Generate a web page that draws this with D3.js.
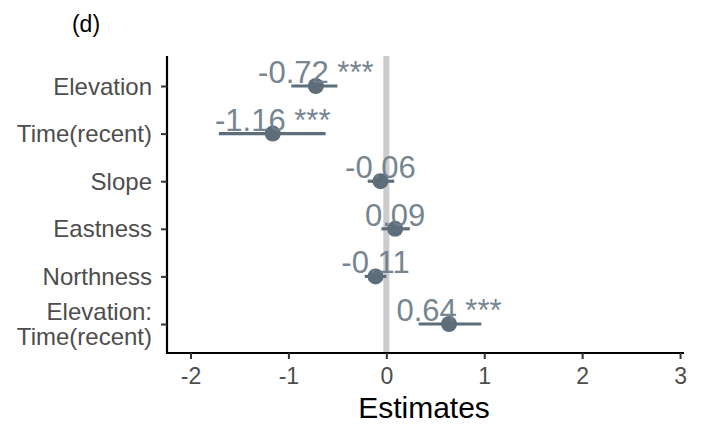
<!DOCTYPE html>
<html><head><meta charset="utf-8">
<script src="https://cdn.jsdelivr.net/npm/d3@7"></script>
<style>body{margin:0;background:#fff}svg{display:block}text{font-family:"Liberation Sans",Arial,sans-serif}</style>
</head><body><svg id="c" width="701" height="427"></svg>
<script>
const terms = ["Elevation","Time(recent)","Slope","Eastness","Northness","Elevation:\nTime(recent)"];
const estimates = [-0.72,-1.16,-0.06,0.09,-0.11,0.64];
const ciLow = [-0.97,-1.71,-0.19,-0.05,-0.22,0.33];
const ciHigh = [-0.50,-0.62,0.08,0.24,0.00,0.97];
const stars = ["***","***","","","","***"];
const xTicks = [-2,-1,0,1,2,3];

const svg = d3.select("#c");
const x = d3.scaleLinear().domain([-2.24,3.03]).range([167,683]);
const y = d3.scalePoint().domain(d3.range(terms.length)).range([86,324]);
const plotTop = 56, plotBottom = 353;

// zero line
svg.append("line").attr("x1",x(0)).attr("x2",x(0)).attr("y1",plotTop).attr("y2",plotBottom)
  .attr("stroke","#cccccc").attr("stroke-width",6);

// error bars
const g = svg.append("g");
terms.forEach((t,i)=>{
  g.append("line").attr("x1",x(ciLow[i])).attr("x2",x(ciHigh[i])).attr("y1",y(i)).attr("y2",y(i))
    .attr("stroke","#5d6d7a").attr("stroke-width",3.2);
  g.append("circle").attr("cx",x(estimates[i])).attr("cy",y(i)).attr("r",8).attr("fill","#5d6d7a");
});
terms.forEach((t,i)=>{
  const lbl = estimates[i].toFixed(2) + (stars[i] ? " " + stars[i] : "");
  g.append("text").attr("x",x(estimates[i])).attr("y",y(i)-3).attr("text-anchor","middle")
    .attr("font-size",31).attr("fill","#6f7f8b").attr("opacity",0.95).text(lbl);
});

// axes
svg.append("line").attr("x1",167).attr("x2",167).attr("y1",plotTop).attr("y2",plotBottom+1)
  .attr("stroke","#000").attr("stroke-width",2.2);
svg.append("line").attr("x1",166).attr("x2",684).attr("y1",plotBottom).attr("y2",plotBottom)
  .attr("stroke","#000").attr("stroke-width",2.2);

const xa = svg.append("g").attr("transform",`translate(0,${plotBottom})`)
  .call(d3.axisBottom(x).tickValues(xTicks).tickSize(6).tickPadding(9).tickFormat(d=>d3.format("d")(d).replace("−","-")));
xa.select(".domain").remove();
xa.selectAll("line").attr("stroke","#333").attr("stroke-width",2);
xa.selectAll("text").attr("font-size",23).attr("fill","#4d4d4d").attr("font-family","Liberation Sans, Arial, sans-serif");

const ya = svg.append("g").attr("transform","translate(167,0)")
  .call(d3.axisLeft(y).tickSize(6).tickFormat(""));
ya.select(".domain").remove();
ya.selectAll("line").attr("stroke","#333").attr("stroke-width",2);
terms.forEach((t,i)=>{
  const lines = t.split("\n");
  const txt = svg.append("text").attr("x",152).attr("text-anchor","end")
    .attr("font-size",24).attr("fill","#4d4d4d");
  const lh = 25;
  const y0 = y(i) + 8.5 - (lines.length-1)*lh/2;
  lines.forEach((l,k)=>txt.append("tspan").attr("x",152).attr("y",y0+k*lh).text(l));
});

svg.append("text").attr("x",424).attr("y",418).attr("text-anchor","middle")
  .attr("font-size",30).attr("fill","#000").text("Estimates");
svg.append("text").attr("x",86).attr("y",32).attr("text-anchor","middle")
  .attr("font-size",23).attr("fill","#000").text("(d)");
</script></body></html>
